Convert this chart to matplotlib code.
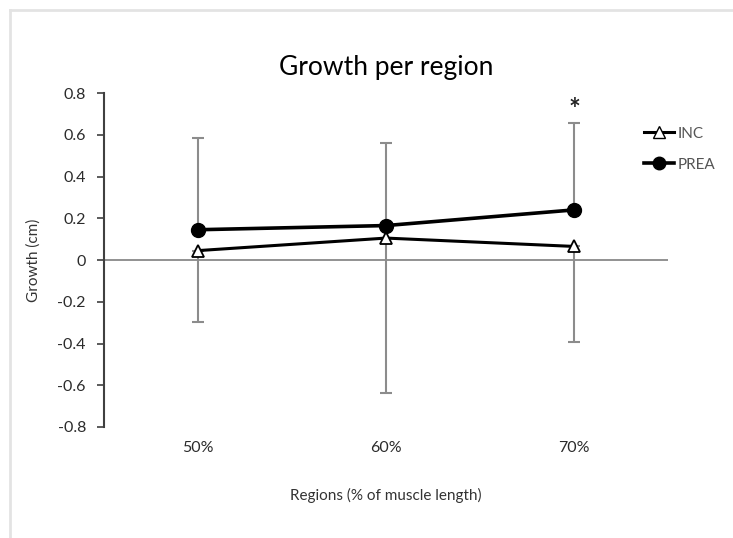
import numpy as np
import matplotlib.pyplot as plt
from matplotlib.lines import Line2D

plt.rcParams['font.family'] = ['Lato', 'DejaVu Sans']

# data
regions = ['50%', '60%', '70%']
inc = [0.045, 0.105, 0.065]
prea = [0.145, 0.165, 0.24]
err_upper = [0.44, 0.395, 0.415]   # PREA upper error
err_lower = [0.34, 0.74, 0.46]     # INC lower error
star_region = 2
star_y = 0.72

fig = plt.figure(figsize=(7.33, 5.38), dpi=100)
ax = fig.add_axes([104 / 733, 1 - 427 / 538, (668 - 104) / 733, (427 - 93) / 538])

x = np.arange(len(regions)) + 0.5

# error bars (grey, one-sided like in Excel)
ax.errorbar(x, prea, yerr=[np.zeros(3), err_upper], fmt='none', ecolor='#8c8c8c',
            elinewidth=1.5, capsize=4, capthick=1.5, zorder=2)
ax.errorbar(x, inc, yerr=[err_lower, np.zeros(3)], fmt='none', ecolor='#8c8c8c',
            elinewidth=1.5, capsize=4, capthick=1.5, zorder=2)

ax.axhline(0, color='#7f7f7f', lw=1.2, zorder=1)

ax.plot(x, inc, color='black', lw=2.2, marker='^', markersize=9,
        markerfacecolor='white', markeredgecolor='black', markeredgewidth=1.3, zorder=3)
ax.plot(x, prea, color='black', lw=2.6, marker='o', markersize=10,
        markerfacecolor='black', zorder=4)

ax.text(x[star_region], star_y, '*', ha='center', va='center', fontsize=20,
        fontweight='bold', color='#222222')

ax.set_xlim(0, 3)
ax.set_ylim(-0.8, 0.8)
ax.set_yticks(np.arange(-0.8, 0.81, 0.2))
ax.set_yticklabels(['-0.8', '-0.6', '-0.4', '-0.2', '0', '0.2', '0.4', '0.6', '0.8'])
ax.set_xticks(x)
ax.set_xticklabels(regions)

for s in ['top', 'right', 'bottom']:
    ax.spines[s].set_visible(False)
ax.spines['left'].set_color('#404040')
ax.spines['left'].set_linewidth(1.5)
ax.tick_params(axis='y', direction='out', length=5, width=1.2, color='#404040',
               labelsize=11.5, labelcolor='#2b2b2b', pad=8)
ax.tick_params(axis='x', length=0, labelsize=11.5, labelcolor='#2b2b2b', pad=10)

ax.set_title('Growth per region', fontsize=19, color='black', pad=13)
ax.set_ylabel('Growth (cm)', fontsize=11, color='#333333', labelpad=12)
ax.set_xlabel('Regions (% of muscle length)', fontsize=11, color='#333333', labelpad=24)

handles = [
    Line2D([], [], color='black', lw=2.2, marker='^', markersize=8,
           markerfacecolor='white', markeredgecolor='black'),
    Line2D([], [], color='black', lw=2.6, marker='o', markersize=9,
           markerfacecolor='black'),
]
fig.legend(handles, ['INC', 'PREA'], loc='upper left', bbox_to_anchor=(630 / 733, 1 - 113 / 538),
           frameon=False, fontsize=11, labelcolor='#555555', handlelength=2.0,
           handletextpad=0.2, labelspacing=1.1)

# light chart border (left and top visible)
fig.add_artist(Line2D([10 / 733, 10 / 733], [0, 1 - 10 / 538], color='#e3e3e3', lw=2,
                      transform=fig.transFigure))
fig.add_artist(Line2D([10 / 733, 1], [1 - 10 / 538, 1 - 10 / 538], color='#e3e3e3', lw=2,
                      transform=fig.transFigure))

fig.savefig('out.png', dpi=100)
